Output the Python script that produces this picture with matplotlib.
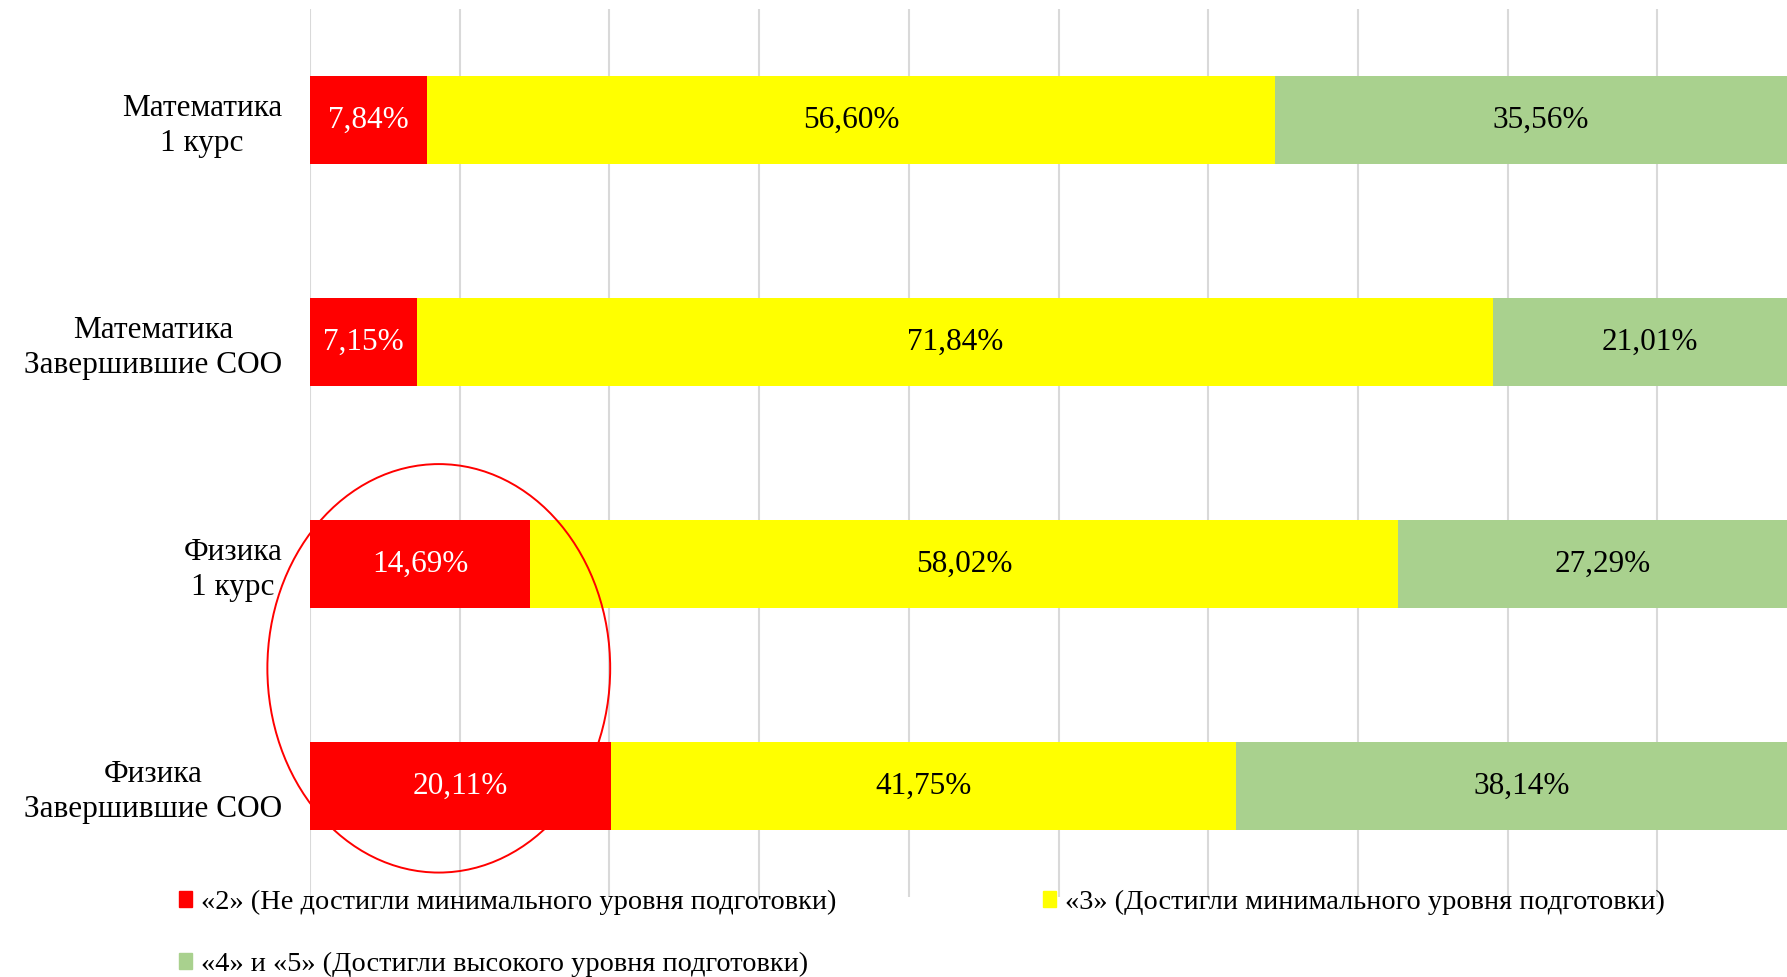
import numpy as np
import matplotlib
matplotlib.use("Agg")
import matplotlib.pyplot as plt
import matplotlib.transforms as mtransforms
from matplotlib.patches import Ellipse, Patch

categories = ["Математика\n1 курс", "Математика\nЗавершившие СОО",
              "Физика\n1 курс", "Физика\nЗавершившие СОО"]
grade2 = [7.84, 7.15, 14.69, 20.11]
grade3 = [56.60, 71.84, 58.02, 41.75]
grade45 = [35.56, 21.01, 27.29, 38.14]
series_names = ["«2» (Не достигли минимального уровня подготовки)",
                "«3» (Достигли минимального уровня подготовки)",
                "«4» и «5» (Достигли высокого уровня подготовки)"]
colors = ["#FF0000", "#FFFF00", "#A9D18E"]
text_colors = ["white", "black", "black"]

plt.rcParams["font.family"] = ["Liberation Serif", "DejaVu Serif"]
fs = 22.5

fig = plt.figure(figsize=(17.87, 9.77), dpi=100)
# the plot area runs past the right edge of the picture, as in the source
ax = fig.add_axes([0.1735, 0.0819, 1.0112 - 0.1735, 0.9908 - 0.0819])

y = np.arange(len(categories))
left = np.zeros(len(categories))
for vals, col, tcol, name in zip([grade2, grade3, grade45], colors, text_colors, series_names):
    b = ax.barh(y, vals, left=left, height=0.4, color=col, label=name, zorder=2)
    ax.bar_label(b, labels=[("%.2f%%" % v).replace(".", ",") for v in vals],
                 label_type="center", color=tcol, fontsize=fs)
    left += np.array(vals)

ax.set_xlim(0, 100)
ax.set_ylim(3.5, -0.5)
ax.set_xticks(np.arange(0, 101, 10))
ax.set_xticklabels([])
ax.tick_params(axis="x", length=0)
ax.xaxis.grid(True, color="#D9D9D9", linewidth=1.5, zorder=0)
ax.set_axisbelow(True)
ax.set_yticks(y)
ax.set_yticklabels(categories, fontsize=fs)
shift = mtransforms.ScaledTranslation(0, 2.5 / 72, fig.dpi_scale_trans)
for lab in ax.get_yticklabels():
    lab.set_multialignment("center")
    lab.set_linespacing(1.25)
    lab.set_transform(lab.get_transform() + shift)
ax.tick_params(axis="y", length=0, pad=20)
for s in ax.spines.values():
    s.set_visible(False)

# red ellipse around the physics "2" segments
ell = Ellipse((8.6, 2.47), 22.9, 1.84, fill=False, edgecolor="#FF0000",
              linewidth=1.4, clip_on=False, zorder=3)
ax.add_patch(ell)

handles = [Patch(color=colors[0], label=series_names[0]),
           Patch(color=colors[2], label=series_names[2]),
           Patch(color=colors[1], label=series_names[1])]
fig.legend(handles=handles, ncol=2, loc="upper left", bbox_to_anchor=(0.100, 0.089),
           frameon=False, fontsize=20.4, handlelength=0.47, handleheight=0.47,
           handletextpad=0.3, columnspacing=7.3, borderpad=0, borderaxespad=0,
           labelspacing=1.3)

fig.savefig("out.png", dpi=100)
